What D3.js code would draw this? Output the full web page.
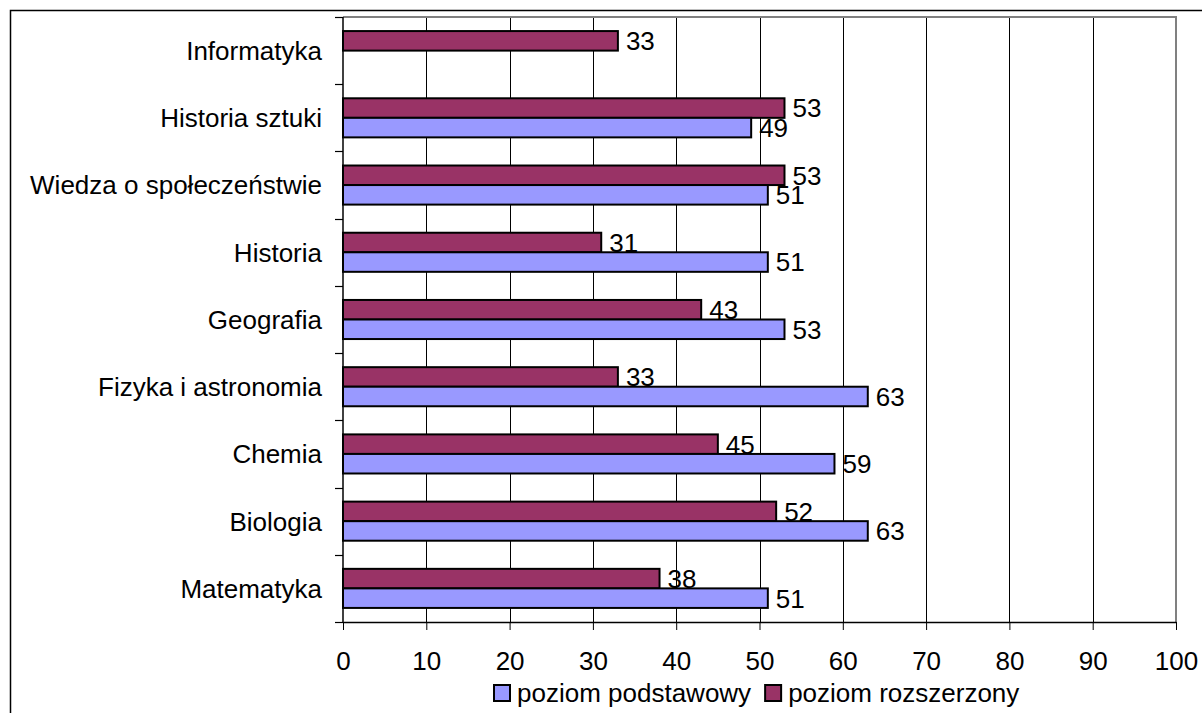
<!DOCTYPE html>
<html>
<head>
<meta charset="utf-8">
<script src="https://cdn.jsdelivr.net/npm/d3@7"></script>
<style>
  body { margin: 0; background: #fff; }
  svg { font-family: "Liberation Sans", Arial, sans-serif; }
</style>
</head>
<body>
<div class="chart"></div>
<script>
// categories top to bottom
var categories = ["Informatyka", "Historia sztuki", "Wiedza o społeczeństwie", "Historia",
  "Geografia", "Fizyka i astronomia", "Chemia", "Biologia", "Matematyka"];
var podstawowy = [null, 49, 51, 51, 53, 63, 59, 63, 51];
var rozszerzony = [33, 53, 53, 31, 43, 33, 45, 52, 38];
var seriesNames = ["poziom podstawowy", "poziom rozszerzony"];
var seriesColors = ["#9999FF", "#993366"];
var xTicks = [0, 10, 20, 30, 40, 50, 60, 70, 80, 90, 100];

var width = 1202, height = 713;
var margin = { top: 17, right: 26, bottom: 91, left: 343 };
var fontSize = 26;

var svg = d3.select(".chart")
  .append("svg")
    .attr("width", width)
    .attr("height", height);

// outer frame
svg.append("rect")
  .attr("x", 10.5).attr("y", 10.5)
  .attr("width", width).attr("height", height)
  .attr("fill", "none").attr("stroke", "#000").attr("stroke-width", 1.5);

var g = svg.append("g")
  .attr("transform", "translate(" + margin.left + "," + margin.top + ")");

var w = width - margin.left - margin.right;  // 833
var h = height - margin.top - margin.bottom; // 605

var x = d3.scaleLinear().domain([0, 100]).range([0, w]);
var y = d3.scaleBand().domain(categories).range([0, h]).paddingInner(0).paddingOuter(0);
var inner = d3.scaleBand().domain(["rozszerzony", "podstawowy"])
  .range([0, y.bandwidth()]).paddingInner(0).paddingOuter(0.72);

// gridlines
g.selectAll(".grid")
  .data(xTicks.slice(1, -1))
  .enter().append("line")
    .attr("x1", function(d) { return Math.round(x(d)) + 0.5; })
    .attr("x2", function(d) { return Math.round(x(d)) + 0.5; })
    .attr("y1", 0).attr("y2", h)
    .attr("stroke", "#000").attr("stroke-width", 1);

// plot area border (top & right)
g.append("path")
  .attr("d", "M0,0H" + w + "V" + h)
  .attr("fill", "none").attr("stroke", "#808080").attr("stroke-width", 2);

var rows = categories.map(function(c, i) {
  return { cat: c, p: podstawowy[i], r: rozszerzony[i] };
});

function drawSeries(key, name, color) {
  var data = rows.filter(function(d) { return d[key] != null; });
  g.selectAll(".bar-" + key)
    .data(data)
    .enter().append("rect")
      .attr("x", 0)
      .attr("y", function(d) { return y(d.cat) + inner(name); })
      .attr("width", function(d) { return x(d[key]); })
      .attr("height", inner.bandwidth())
      .attr("fill", color)
      .attr("stroke", "#000").attr("stroke-width", 2);
}
drawSeries("r", "rozszerzony", seriesColors[1]);
drawSeries("p", "podstawowy", seriesColors[0]);

// value labels on top of all bars
[["r", "rozszerzony"], ["p", "podstawowy"]].forEach(function(s) {
  var key = s[0], name = s[1];
  var data = rows.filter(function(d) { return d[key] != null; });
  g.selectAll(".lab-" + key)
    .data(data)
    .enter().append("text")
      .attr("x", function(d) { return x(d[key]) + 8; })
      .attr("y", function(d) { return y(d.cat) + inner(name) + inner.bandwidth() / 2; })
      .attr("dy", "0.36em")
      .attr("font-size", fontSize)
      .attr("fill", "#000")
      .text(function(d) { return d[key]; });
});

// x axis
var xAxis = g.append("g")
  .attr("transform", "translate(0," + h + ")")
  .call(d3.axisBottom(x).tickValues(xTicks).tickSize(8).tickPadding(22).tickSizeOuter(0));
xAxis.select(".domain").attr("stroke", "#000").attr("stroke-width", 1.5);
xAxis.selectAll(".tick line").attr("stroke", "#000");
xAxis.selectAll("text").attr("font-size", fontSize).attr("font-family", "Liberation Sans, Arial, sans-serif").attr("fill", "#000");

// y axis with ticks at category boundaries
var yAxis = g.append("g");
yAxis.append("line")
  .attr("x1", 0).attr("x2", 0).attr("y1", 0).attr("y2", h)
  .attr("stroke", "#000").attr("stroke-width", 1.5);
yAxis.selectAll(".ytick")
  .data(d3.range(categories.length + 1))
  .enter().append("line")
    .attr("x1", -8).attr("x2", 0)
    .attr("y1", function(i) { return Math.round(i * y.step()) + 0.5; })
    .attr("y2", function(i) { return Math.round(i * y.step()) + 0.5; })
    .attr("stroke", "#000").attr("stroke-width", 1.2);
yAxis.selectAll(".ylab")
  .data(categories)
  .enter().append("text")
    .attr("x", -21)
    .attr("y", function(d) { return y(d) + y.bandwidth() / 2; })
    .attr("dy", "0.36em")
    .attr("text-anchor", "end")
    .attr("font-size", fontSize)
    .text(function(d) { return d; });

// legend
var legend = svg.append("g").attr("transform", "translate(494,685)");
var lx = 0;
seriesNames.forEach(function(name, i) {
  var item = legend.append("g").attr("transform", "translate(" + lx + ",0)");
  item.append("rect")
    .attr("x", 0).attr("y", 0).attr("width", 16).attr("height", 16)
    .attr("fill", seriesColors[i]).attr("stroke", "#000").attr("stroke-width", 2);
  var t = item.append("text")
    .attr("x", 23).attr("y", 8).attr("dy", "0.36em")
    .attr("font-size", fontSize)
    .text(name);
  lx += 23 + t.node().getComputedTextLength() + 14;
});
</script>
</body>
</html>
